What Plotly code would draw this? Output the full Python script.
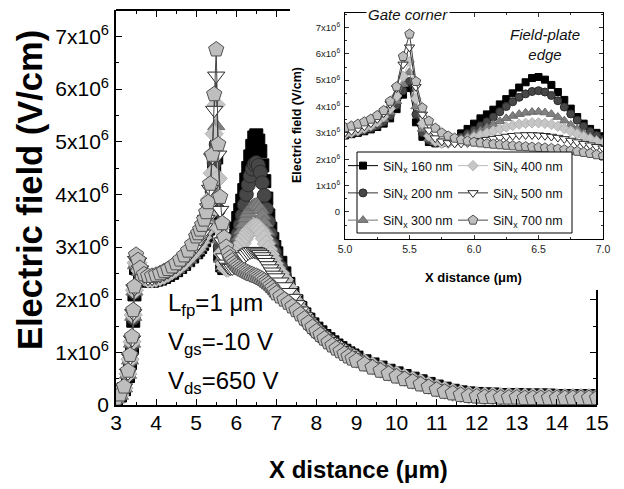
import plotly.graph_objects as go

# ---------------- data (electric field in units of 10^6 V/cm) ----------------
x_um = [3.0, 3.1, 3.2, 3.3, 3.35, 3.4, 3.43, 3.46, 3.5, 3.55, 3.6, 3.7, 3.8, 3.9, 4.0, 4.1, 4.2, 4.3, 4.4, 4.5, 4.6, 4.7, 4.8, 4.9,
        5.0, 5.05, 5.1, 5.15, 5.2, 5.25, 5.3, 5.35, 5.4, 5.45, 5.5, 5.55, 5.6, 5.65, 5.7, 5.75, 5.8, 5.85, 5.9, 5.95,
        6.0, 6.05, 6.1, 6.15, 6.2, 6.25, 6.3, 6.35, 6.4, 6.45, 6.5, 6.55, 6.6, 6.65, 6.7, 6.75, 6.8, 6.85, 6.9, 6.95, 7.0,
        7.1, 7.2, 7.3, 7.4, 7.5, 7.6, 7.7, 7.8, 7.9, 8.0, 8.1, 8.2, 8.3, 8.4, 8.5, 8.6, 8.7, 8.8, 8.9, 9.0,
        9.2, 9.4, 9.6, 9.8, 10.0, 10.2, 10.4, 10.6, 10.8, 11.0, 11.2, 11.4, 11.6, 11.8, 12.0, 12.2, 12.4, 12.6, 12.8,
        13.0, 13.2, 13.4, 13.6, 13.8, 14.0, 14.2, 14.4, 14.6, 14.8, 15.0]

e_160 = [0.10, 0.18, 0.30, 0.55, 0.80, 1.10, 1.60, 2.10, 2.60, 2.65, 2.50, 2.40, 2.36, 2.36, 2.38, 2.40, 2.43, 2.47, 2.51, 2.56, 2.62, 2.68, 2.75, 2.82,
         2.90, 2.95, 3.00, 3.06, 3.13, 3.22, 3.35, 3.55, 3.90, 4.45, 4.70, 3.40, 2.85, 2.65, 2.60, 2.62, 2.68, 2.80, 2.98, 3.15,
         3.35, 3.55, 3.70, 3.88, 4.08, 4.28, 4.50, 4.72, 4.92, 5.08, 5.12, 5.02, 4.82, 4.55, 4.25, 3.92, 3.60, 3.35, 3.15, 3.00, 2.88,
         2.70, 2.50, 2.30, 2.12, 1.97, 1.84, 1.72, 1.62, 1.53, 1.45, 1.38, 1.31, 1.25, 1.19, 1.13, 1.08, 1.03, 0.98, 0.94, 0.90,
         0.83, 0.77, 0.71, 0.65, 0.60, 0.55, 0.50, 0.45, 0.40, 0.35, 0.31, 0.27, 0.24, 0.22, 0.21, 0.20, 0.20, 0.19, 0.19,
         0.19, 0.18, 0.18, 0.18, 0.18, 0.17, 0.17, 0.17, 0.17, 0.17, 0.17]

e_200 = [0.10, 0.18, 0.31, 0.57, 0.83, 1.14, 1.65, 2.14, 2.63, 2.66, 2.52, 2.41, 2.37, 2.37, 2.39, 2.41, 2.44, 2.48, 2.52, 2.57, 2.63, 2.69, 2.76, 2.84,
         2.92, 2.97, 3.03, 3.10, 3.18, 3.28, 3.42, 3.65, 4.05, 4.60, 4.95, 3.70, 3.00, 2.72, 2.62, 2.60, 2.64, 2.72, 2.84, 2.97,
         3.10, 3.25, 3.42, 3.60, 3.80, 4.00, 4.18, 4.35, 4.48, 4.57, 4.60, 4.55, 4.42, 4.22, 3.98, 3.72, 3.48, 3.25, 3.05, 2.90, 2.76,
         2.62, 2.45, 2.27, 2.10, 1.96, 1.83, 1.71, 1.61, 1.52, 1.44, 1.37, 1.30, 1.24, 1.18, 1.12, 1.07, 1.02, 0.97, 0.93, 0.89,
         0.82, 0.76, 0.70, 0.64, 0.59, 0.54, 0.49, 0.44, 0.39, 0.34, 0.30, 0.26, 0.23, 0.21, 0.20, 0.19, 0.19, 0.18, 0.18,
         0.18, 0.17, 0.17, 0.17, 0.17, 0.16, 0.16, 0.16, 0.16, 0.16, 0.16]

e_300 = [0.11, 0.18, 0.32, 0.58, 0.85, 1.17, 1.68, 2.16, 2.66, 2.68, 2.53, 2.42, 2.38, 2.38, 2.40, 2.42, 2.45, 2.49, 2.53, 2.58, 2.64, 2.70, 2.77, 2.86,
         2.94, 3.00, 3.06, 3.14, 3.23, 3.35, 3.52, 3.78, 4.20, 4.85, 5.30, 4.00, 3.15, 2.78, 2.64, 2.60, 2.62, 2.68, 2.76, 2.86,
         2.97, 3.08, 3.20, 3.32, 3.44, 3.55, 3.64, 3.71, 3.76, 3.79, 3.80, 3.77, 3.71, 3.60, 3.46, 3.30, 3.14, 2.98, 2.85, 2.74, 2.65,
         2.55, 2.41, 2.25, 2.09, 1.95, 1.82, 1.70, 1.60, 1.51, 1.43, 1.36, 1.29, 1.23, 1.17, 1.11, 1.06, 1.01, 0.96, 0.92, 0.88,
         0.81, 0.75, 0.69, 0.63, 0.58, 0.53, 0.48, 0.43, 0.38, 0.33, 0.29, 0.25, 0.22, 0.20, 0.19, 0.18, 0.18, 0.17, 0.17,
         0.17, 0.16, 0.16, 0.16, 0.16, 0.15, 0.15, 0.15, 0.15, 0.15, 0.15]

e_400 = [0.11, 0.19, 0.32, 0.59, 0.87, 1.20, 1.71, 2.18, 2.70, 2.70, 2.55, 2.43, 2.39, 2.39, 2.41, 2.43, 2.46, 2.50, 2.55, 2.60, 2.66, 2.72, 2.80, 2.88,
         2.96, 3.02, 3.09, 3.18, 3.28, 3.42, 3.62, 3.92, 4.40, 5.15, 5.70, 4.30, 3.35, 2.88, 2.68, 2.60, 2.60, 2.63, 2.68, 2.75,
         2.83, 2.91, 2.99, 3.07, 3.15, 3.22, 3.28, 3.33, 3.36, 3.38, 3.38, 3.36, 3.32, 3.25, 3.16, 3.06, 2.96, 2.86, 2.77, 2.68, 2.60,
         2.50, 2.38, 2.23, 2.08, 1.94, 1.81, 1.69, 1.59, 1.50, 1.42, 1.35, 1.28, 1.22, 1.16, 1.10, 1.05, 1.00, 0.95, 0.91, 0.87,
         0.80, 0.74, 0.68, 0.62, 0.57, 0.52, 0.47, 0.42, 0.37, 0.32, 0.28, 0.24, 0.21, 0.19, 0.18, 0.17, 0.17, 0.16, 0.16,
         0.16, 0.15, 0.15, 0.15, 0.15, 0.14, 0.14, 0.14, 0.14, 0.14, 0.14]

e_500 = [0.11, 0.19, 0.33, 0.61, 0.90, 1.24, 1.74, 2.21, 2.75, 2.72, 2.57, 2.45, 2.41, 2.41, 2.43, 2.46, 2.49, 2.53, 2.58, 2.63, 2.69, 2.76, 2.84, 2.93,
         3.02, 3.08, 3.16, 3.25, 3.37, 3.53, 3.75, 4.10, 4.70, 5.60, 6.25, 4.75, 3.70, 3.10, 2.80, 2.68, 2.62, 2.60, 2.60, 2.62,
         2.66, 2.70, 2.74, 2.78, 2.82, 2.86, 2.89, 2.91, 2.92, 2.92, 2.91, 2.89, 2.86, 2.82, 2.77, 2.71, 2.65, 2.59, 2.53, 2.47, 2.42,
         2.34, 2.25, 2.14, 2.03, 1.91, 1.79, 1.68, 1.58, 1.49, 1.41, 1.34, 1.27, 1.21, 1.15, 1.09, 1.04, 0.99, 0.94, 0.90, 0.86,
         0.79, 0.73, 0.67, 0.61, 0.56, 0.51, 0.46, 0.41, 0.36, 0.31, 0.27, 0.23, 0.20, 0.18, 0.17, 0.16, 0.16, 0.15, 0.15,
         0.15, 0.14, 0.14, 0.14, 0.14, 0.13, 0.13, 0.13, 0.13, 0.13, 0.13]

e_700 = [0.12, 0.20, 0.35, 0.65, 0.95, 1.30, 1.80, 2.25, 2.85, 2.75, 2.60, 2.48, 2.45, 2.45, 2.47, 2.50, 2.54, 2.58, 2.63, 2.69, 2.76, 2.84, 2.93, 3.05,
         3.20, 3.26, 3.33, 3.42, 3.52, 3.66, 3.85, 4.20, 4.75, 5.90, 6.75, 4.95, 3.95, 3.45, 3.18, 3.00, 2.88, 2.80, 2.74, 2.69,
         2.65, 2.62, 2.59, 2.57, 2.55, 2.53, 2.51, 2.49, 2.48, 2.46, 2.45, 2.43, 2.41, 2.39, 2.36, 2.33, 2.30, 2.26, 2.22, 2.17, 2.12,
         2.06, 2.00, 1.94, 1.87, 1.80, 1.72, 1.64, 1.56, 1.48, 1.40, 1.33, 1.26, 1.19, 1.13, 1.07, 1.02, 0.97, 0.92, 0.88, 0.84,
         0.77, 0.71, 0.65, 0.59, 0.54, 0.49, 0.44, 0.39, 0.34, 0.29, 0.25, 0.22, 0.19, 0.17, 0.16, 0.15, 0.15, 0.14, 0.14,
         0.14, 0.13, 0.13, 0.13, 0.13, 0.13, 0.13, 0.13, 0.13, 0.13, 0.13]

series_names = ["SiN<sub>x</sub> 160 nm", "SiN<sub>x</sub> 200 nm", "SiN<sub>x</sub> 300 nm",
                "SiN<sub>x</sub> 400 nm", "SiN<sub>x</sub> 500 nm", "SiN<sub>x</sub> 700 nm"]
series_values = [e_160, e_200, e_300, e_400, e_500, e_700]

y_tick_vals = [0, 1, 2, 3, 4, 5, 6, 7]
y_tick_text = ["0", "1x10<sup>6</sup>", "2x10<sup>6</sup>", "3x10<sup>6</sup>", "4x10<sup>6</sup>",
               "5x10<sup>6</sup>", "6x10<sup>6</sup>", "7x10<sup>6</sup>"]
inset_x_tick_vals = [5.0, 5.5, 6.0, 6.5, 7.0]
inset_x_tick_text = ["5.0", "5.5", "6.0", "6.5", "7.0"]

# ---------------- styles ----------------
symbols = ["square", "circle", "triangle-up", "diamond", "triangle-down", "pentagon"]
fill_colors = ["#000000", "#474747", "#808080", "#c6c6c6", "#ffffff", "#bebebe"]
edge_colors = ["#000000", "#2b2b2b", "#6c6c6c", "#b3b3b3", "#2a2a2a", "#505050"]
line_colors = ["#000000", "#333333", "#777777", "#bbbbbb", "#333333", "#474747"]
main_sizes = [13, 14, 15, 14, 15, 16]
inset_sizes = [7, 8, 9, 8, 9, 10]
legend_ids = ["legend", "legend", "legend", "legend2", "legend2", "legend2"]

FONT = "Arial, 'Liberation Sans', sans-serif"
BLACK = "#000000"

fig = go.Figure()

for i, vals in enumerate(series_values):
    fig.add_trace(go.Scatter(
        x=x_um, y=vals, mode="lines+markers", xaxis="x", yaxis="y", showlegend=False,
        line=dict(color=line_colors[i], width=1),
        marker=dict(symbol=symbols[i], size=main_sizes[i], color=fill_colors[i],
                    line=dict(color=edge_colors[i], width=1)),
        hoverinfo="skip"))

for i, vals in enumerate(series_values):
    fig.add_trace(go.Scatter(
        x=x_um, y=vals, mode="lines+markers", xaxis="x2", yaxis="y2",
        name=series_names[i], legend=legend_ids[i], legendgroup="g%d" % i,
        line=dict(color=line_colors[i], width=1),
        marker=dict(symbol=symbols[i], size=inset_sizes[i], color=fill_colors[i],
                    line=dict(color=edge_colors[i], width=1)),
        hoverinfo="skip"))

# helper subplot only carrying the partial top/right frame of the main plot
fig.add_trace(go.Scatter(x=[None], y=[None], xaxis="x3", yaxis="y3", showlegend=False, hoverinfo="skip"))

# geometry (pixels) -> paper fractions
W, H = 624, 489
ML, MR, MT, MB = 116, 15, 10, 84
PW, PH = W - ML - MR, H - MT - MB


def px(xp):
    return (xp - ML) / PW


def py(yp):
    return 1 - (yp - MT) / PH


main_right = px(597)
tick_font_main = dict(family=FONT, size=21, color=BLACK)
tick_font_inset = dict(family=FONT, size=10.5, color="#222222")

common_axis = dict(showline=True, linecolor=BLACK, showgrid=False, zeroline=False, ticks="inside",
                   automargin=False)
main_minor = dict(ticks="inside", ticklen=3, tickwidth=1.3, tickcolor=BLACK)

fig.update_layout(
    width=W, height=H,
    margin=dict(l=ML, r=MR, t=MT, b=MB, autoexpand=False),
    paper_bgcolor="white", plot_bgcolor="rgba(0,0,0,0)",
    showlegend=True,
    xaxis=dict(**common_axis, domain=[0, main_right], range=[3, 15], anchor="y",
               tick0=3, dtick=1, ticklen=6, tickwidth=1.3, linewidth=1.6, tickcolor=BLACK,
               minor=dict(dtick=0.5, **main_minor),
               tickfont=tick_font_main, ticklabelstandoff=-2),
    yaxis=dict(**common_axis, domain=[0, 1], range=[0, 7.5], anchor="x",
               tickvals=y_tick_vals, ticktext=y_tick_text, ticklen=6, tickwidth=1.3, linewidth=1.6,
               tickcolor=BLACK, minor=dict(dtick=0.5, **main_minor),
               tickfont=tick_font_main, ticklabelstandoff=1),
    xaxis3=dict(**common_axis, domain=[0, px(290)], range=[3, 3 + (290 - 116) / (481 / 12)],
                anchor="free", position=1, side="top", showticklabels=False,
                tick0=3, dtick=1, ticklen=6, tickwidth=1.3, linewidth=1.6, tickcolor=BLACK,
                minor=dict(dtick=0.5, **main_minor)),
    yaxis3=dict(**common_axis, domain=[0, (405 - 290) / PH], range=[0, (405 - 290) / (PH / 7.5)],
                anchor="free", position=main_right, side="right", showticklabels=False,
                dtick=1, ticklen=6, tickwidth=1.3, linewidth=1.6, tickcolor=BLACK,
                minor=dict(dtick=0.5, **main_minor)),
    xaxis2=dict(**common_axis, domain=[px(345), px(603)], range=[5, 7], anchor="y2", mirror="ticks",
                tickvals=inset_x_tick_vals, ticktext=inset_x_tick_text, ticklen=4, tickwidth=1,
                linewidth=1, tickcolor="#333333",
                minor=dict(dtick=0.25, ticks="inside", ticklen=2, tickwidth=1, tickcolor="#333333"),
                tickfont=tick_font_inset, ticklabelstandoff=0),
    yaxis2=dict(**common_axis, domain=[py(239), py(13)], range=[-1.03, 7.55], anchor="x2", mirror="ticks",
                tickvals=y_tick_vals, ticktext=y_tick_text, ticklen=4, tickwidth=1,
                linewidth=1, tickcolor="#333333",
                minor=dict(dtick=0.5, ticks="inside", ticklen=2, tickwidth=1, tickcolor="#333333"),
                tickfont=dict(family=FONT, size=9.5, color="#222222"), ticklabelstandoff=2),
    legend=dict(x=px(343), y=py(151), xanchor="left", yanchor="top", bgcolor="rgba(0,0,0,0)",
                borderwidth=0, font=dict(family=FONT, size=12.5, color="#111111"),
                itemwidth=30, tracegroupgap=8, traceorder="grouped"),
    legend2=dict(x=px(453), y=py(151), xanchor="left", yanchor="top", bgcolor="rgba(0,0,0,0)",
                 borderwidth=0, font=dict(family=FONT, size=12.5, color="#111111"),
                 itemwidth=30, tracegroupgap=8, traceorder="grouped"),
)

# legend frame of the inset
fig.add_shape(type="rect", xref="paper", yref="paper", x0=px(357), x1=px(572), y0=py(233), y1=py(152),
              fillcolor="white", line=dict(color=BLACK, width=1), layer="above")

annotations = [
    dict(text="<b>Electric field (V/cm)</b>", x=px(30), y=py(190), textangle=-90,
         font=dict(family=FONT, size=34.5, color=BLACK)),
    dict(text="<b>X distance (\u03bcm)</b>", x=px(358), y=py(469),
         font=dict(family=FONT, size=24, color=BLACK)),
    dict(text="<b>X distance (\u03bcm)</b>", x=px(473), y=py(277),
         font=dict(family=FONT, size=13, color=BLACK)),
    dict(text="<b>Electric field (V/cm)</b>", x=px(297), y=py(125), textangle=-90,
         font=dict(family=FONT, size=12.5, color=BLACK)),
    dict(text="<i>Gate corner</i>", x=px(408), y=py(15), bgcolor="white",
         font=dict(family=FONT, size=15, color="#111111")),
    dict(text="<i>Field-plate<br>edge</i>", x=px(545), y=py(44),
         font=dict(family=FONT, size=15, color="#111111")),
    dict(text="L<sub>fp</sub>=1 \u03bcm", x=px(166), y=py(304), xanchor="left",
         font=dict(family=FONT, size=24, color=BLACK)),
    dict(text="V<sub>gs</sub>=-10 V", x=px(166), y=py(343), xanchor="left",
         font=dict(family=FONT, size=24, color=BLACK)),
    dict(text="V<sub>ds</sub>=650 V", x=px(166), y=py(382), xanchor="left",
         font=dict(family=FONT, size=24, color=BLACK)),
]
for a in annotations:
    base = dict(xref="paper", yref="paper", showarrow=False, xanchor="center", yanchor="middle")
    base.update(a)
    fig.add_annotation(**base)

fig.write_html("out.html", config={"displayModeBar": False},
               post_script="document.body.style.margin='0px';")
